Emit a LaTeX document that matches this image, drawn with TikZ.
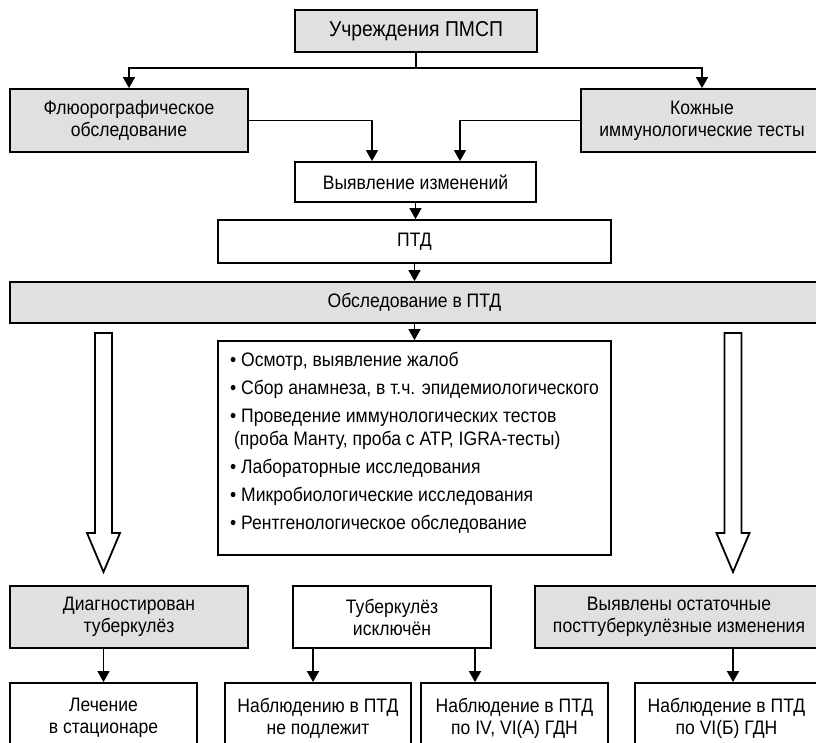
\documentclass[tikz,border=0pt]{standalone}
\usepackage{fontspec}
\setmainfont[FakeStretch=0.9]{Liberation Sans}
\usetikzlibrary{arrows.meta,calc}
\tikzset{
  box/.style={draw, line width=1.8pt, minimum width=#1, align=center, inner sep=0pt,
    font=\fontsize{19.5}{22}\selectfont},
  graybox/.style={box=#1, fill=black!12},
  conn/.style={line width=1.5pt, -{Triangle[length=11pt,width=12pt]}},
  hollow/.style={draw, line width=1.8pt, line join=miter, fill=white},
}
\begin{document}
\begin{tikzpicture}[x=1pt,y=-1pt]
\useasboundingbox (0,0) rectangle (816,742);
\clip (0,0) rectangle (816,742);
% top row
\node[graybox=242pt, minimum height=42pt, font=\fontsize{21.5}{24}\selectfont] (top) at (416,31) {Учреждения ПМСП};
\node[graybox=238pt, minimum height=63pt] (fluoro) at (129,120.5) {Флюорографическое\\обследование};
\node[graybox=242pt, minimum height=63pt] (skin) at (702,120.5) {Кожные\\иммунологические тесты};
\node[box=241pt, minimum height=40pt] (vyav) at (415.5,182) {Выявление изменений};
\node[box=393pt, minimum height=43pt] (ptd) at (414.5,241.5) {ПТД};
\node[graybox=809pt, minimum height=41pt] (obsl) at (414.5,302.5) {Обследование в ПТД};
\node[box=393pt, minimum height=214pt] (list) at (414.5,448) {};
\node[align=left, inner sep=0pt, font=\fontsize{19.5}{23}\selectfont, yshift=5pt] (listtext) at (list.center)
  {\makebox[365pt][l]{• Осмотр, выявление жалоб}\\[5pt]
   • Сбор анамнеза, в т.ч. эпидемиологического\\[5pt]
   • Проведение иммунологических тестов\\
   \hspace*{4pt}(проба Манту, проба с АТР, IGRA-тесты)\\[5pt]
   • Лабораторные исследования\\[5pt]
   • Микробиологические исследования\\[5pt]
   • Рентгенологическое обследование};
% outcome row
\node[graybox=238pt, minimum height=62pt] (diag) at (129,617) {Диагностирован\\туберкулёз};
\node[box=198pt, minimum height=62pt] (tubex) at (392,617) {Туберкулёз\\исключён};
\node[graybox=288pt, minimum height=62pt] (vyavl) at (679,617) {Выявлены остаточные\\посттуберкулёзные изменения};
% bottom row
\node[box=187pt, minimum height=70pt] (lech) at (103.5,718) {Лечение\\в стационаре};
\node[box=186pt, minimum height=70pt] (nabl1) at (318,718) {Наблюдению в ПТД\\не подлежит};
\node[box=187pt, minimum height=70pt] (nabl2) at (514.5,718) {Наблюдение в ПТД\\по IV, VI(А) ГДН};
\node[box=183pt, minimum height=70pt] (nabl3) at (726.5,718) {Наблюдение в ПТД\\по VI(Б) ГДН};
% connectors
\draw[conn] (top.south) -- ++(0,15) -| (fluoro.north);
\draw[conn] (top.south) -- ++(0,15) -| (skin.north);
\draw[conn] (fluoro.east) -| ([xshift=-43.5pt]vyav.north);
\draw[conn] (skin.west) -| ([xshift=44.5pt]vyav.north);
\draw[conn] (vyav.south) -- (vyav.south |- ptd.north);
\draw[conn] (ptd.south) -- (ptd.south |- obsl.north);
\draw[conn] (obsl.south) -- (obsl.south |- list.north);
\draw[conn] (lech.north |- diag.south) -- (lech.north);
\draw[conn] ([xshift=-79pt]tubex.south) -- ([xshift=-79pt]tubex.south |- nabl1.north);
\draw[conn] ([xshift=83pt]tubex.south) -- ([xshift=83pt]tubex.south |- nabl2.north);
\coordinate (r3) at (733,0);
\draw[conn] (r3 |- vyavl.south) -- (r3 |- nabl3.north);
% hollow arrows
\coordinate (ha1) at (103.5,333);
\coordinate (ha2) at (733,333);
\foreach \h in {ha1,ha2}{
  \draw[hollow] ($(\h)+(-8.5,0)$) -- ($(\h)+(8.5,0)$) -- ($(\h)+(8.5,200)$) -- ($(\h)+(16.5,200)$)
     -- ($(\h)+(0,239)$) -- ($(\h)+(-16.5,200)$) -- ($(\h)+(-8.5,200)$) -- cycle;
}
\end{tikzpicture}
\end{document}
